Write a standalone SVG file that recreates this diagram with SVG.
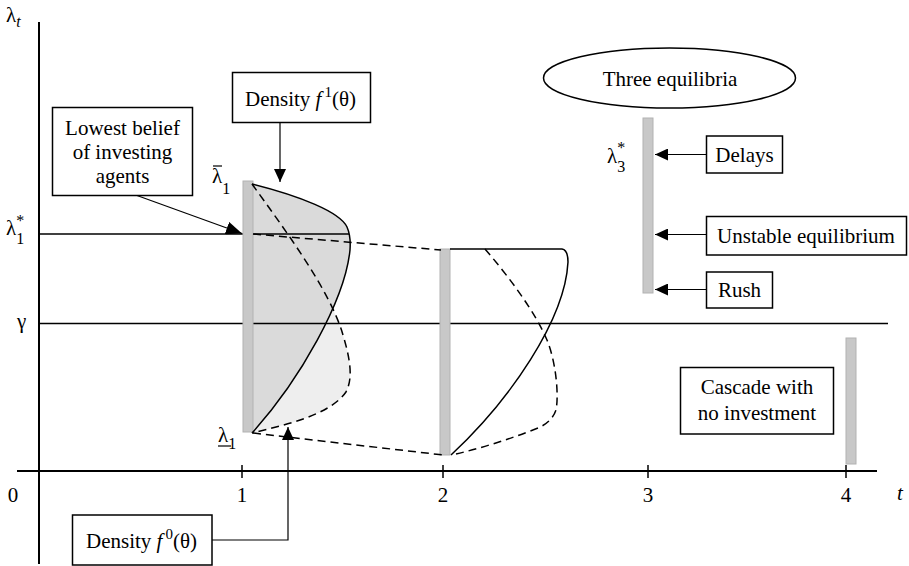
<svg xmlns="http://www.w3.org/2000/svg" width="909" height="566" viewBox="0 0 909 566">
<defs>
<marker id="ah" viewBox="0 0 13 12" refX="13" refY="6" markerWidth="13" markerHeight="12" orient="auto" markerUnits="userSpaceOnUse"><path d="M0,0 L13,6 L0,12 z" fill="#000"/></marker>
<marker id="ahb" viewBox="0 0 16 13" refX="16" refY="6.5" markerWidth="16" markerHeight="13" orient="auto" markerUnits="userSpaceOnUse"><path d="M0,0 L16,6.5 L0,13 z" fill="#000"/></marker>
</defs>
<style>
text{font-family:"Liberation Serif","Times New Roman","DejaVu Serif",serif;font-size:21px;fill:#000}
.c{text-anchor:middle}
.box{fill:#fff;stroke:#000;stroke-width:1.5}
.bar{fill:#c8c8c8;stroke:#b2b2b2;stroke-width:1}
.ax{stroke:#000;stroke-width:2;fill:none}
.ln{stroke:#000;stroke-width:1.5;fill:none}
.ds{stroke:#000;stroke-width:1.5;fill:none;stroke-dasharray:8 5}
.con{stroke:#000;stroke-width:1.2;fill:none;marker-end:url(#ah)}
.it{font-style:italic}
.sm{font-size:16px}
.sp{font-size:15px}
</style>
<rect width="909" height="566" fill="#fff"/>

<g id="shading">
<path d="M252,184 C285,230 330,290 343,335 C352,365 352,380 346,392 C330,415 285,425 252,433 Z" fill="#eeeeee"/>
<path d="M252,184 C300,196 340,212 347,227 Q351,236 350,250 C345,300 300,380 252,433 Z" fill="#dadada"/>
</g>

<g id="axes">
<line class="ax" x1="39" y1="22" x2="39" y2="564"/>
<line class="ax" x1="17" y1="471" x2="877" y2="471"/>
<line class="ln" x1="242" y1="465" x2="242" y2="478"/>
<line class="ln" x1="443" y1="465" x2="443" y2="478"/>
<line class="ln" x1="648" y1="465" x2="648" y2="478"/>
<line class="ln" x1="846" y1="465" x2="846" y2="478"/>
<text x="13" y="502" class="c">0</text>
<text x="242" y="502" class="c">1</text>
<text x="443" y="502" class="c">2</text>
<text x="648" y="502" class="c">3</text>
<text x="846" y="502" class="c">4</text>
<text x="900" y="500" class="c it">t</text>
<text x="6" y="22">λ<tspan class="sm it" dy="5">t</tspan></text>
<text x="6" y="235">λ<tspan class="sm" dy="-9">*</tspan><tspan class="sm" dx="-8" dy="18">1</tspan></text>
<text x="17" y="328">γ</text>
</g>

<g id="levels">
<line class="ln" x1="39" y1="234" x2="349" y2="234"/>
<line class="ln" x1="39" y1="323.5" x2="888" y2="323.5"/>
</g>

<g id="bar1"><rect class="bar" x="243" y="181" width="10" height="251"/>
<text x="212" y="183">λ<tspan class="sm" dy="11">1</tspan></text>
<line x1="213" y1="166" x2="222" y2="166" stroke="#000" stroke-width="1.2"/>
<text x="218" y="442">λ<tspan class="sm" dy="7">1</tspan></text>
<line x1="218" y1="446" x2="231" y2="446" stroke="#000" stroke-width="1.2"/>
</g>
<g id="bar2"><rect class="bar" x="440" y="249" width="10" height="206"/></g>
<g id="bar3"><rect class="bar" x="643" y="118" width="10" height="175"/>
<text x="607" y="163">λ<tspan class="sm" dy="-10">*</tspan><tspan class="sm" dx="-8" dy="19">3</tspan></text>
</g>
<g id="bar4"><rect class="bar" x="846" y="338" width="10" height="126"/></g>

<g id="curves">
<path class="ln" d="M252,184 C300,196 340,212 347,227 Q351,236 350,250 C345,300 300,380 252,433"/>
<path class="ds" d="M252,184 C285,230 330,290 343,335 C352,365 352,380 346,392 C330,415 285,425 252,433"/>
<path class="ds" d="M253,234 L441,250"/>
<path class="ds" d="M253,433 L443,455"/>
<path class="ln" d="M450,249 L562,249 Q568,250 568,262 C565,320 510,400 451,455"/>
<path class="ds" d="M485,249 C510,278 535,312 547,340 C556,362 559,395 556,410 Q552,422 538,428 Q495,445 452,455"/>
</g>

<g id="n-three">
<ellipse cx="669.5" cy="78" rx="126" ry="30" fill="#fff" stroke="#000" stroke-width="1.5"/>
<text x="670" y="86" class="c">Three equilibria</text>
</g>
<g id="n-density1">
<rect class="box" x="232.5" y="72.5" width="138" height="50"/>
<text x="245" y="106">Density <tspan class="it">f</tspan><tspan class="sp" dx="3" dy="-9">1</tspan><tspan dy="9">(θ)</tspan></text>
</g>
<g id="n-lowest">
<rect class="box" x="52.5" y="107.5" width="140" height="88"/>
<text x="122.5" y="135" class="c">Lowest belief</text>
<text x="122.5" y="159" class="c">of investing</text>
<text x="122.5" y="183" class="c">agents</text>
</g>
<g id="n-density0">
<rect class="box" x="72.5" y="515" width="139.5" height="50"/>
<text x="86" y="548">Density <tspan class="it">f</tspan><tspan class="sp" dx="3" dy="-9">0</tspan><tspan dy="9">(θ)</tspan></text>
</g>
<g id="n-delays">
<rect class="box" x="706.5" y="136" width="76" height="37"/>
<text x="744.5" y="162" class="c">Delays</text>
</g>
<g id="n-unstable">
<rect class="box" x="706.5" y="216.5" width="200" height="38.5"/>
<text x="806" y="243" class="c">Unstable equilibrium</text>
</g>
<g id="n-rush">
<rect class="box" x="706.5" y="272" width="66" height="36"/>
<text x="739.5" y="297" class="c">Rush</text>
</g>
<g id="n-cascade">
<rect class="box" x="680.5" y="367.5" width="153" height="66.5"/>
<text x="757" y="394" class="c">Cascade with</text>
<text x="757" y="420" class="c">no investment</text>
</g>

<g id="connectors">
<line class="con" x1="280" y1="122.5" x2="280" y2="182"/>
<line x1="137" y1="195.5" x2="242" y2="233.5" stroke="#000" stroke-width="1.2" marker-end="url(#ahb)"/>
<polyline class="con" points="212,540 288,540 288,427"/>
<line class="con" x1="706.5" y1="154.5" x2="655" y2="154.5"/>
<line class="con" x1="706.5" y1="234.5" x2="655" y2="234.5"/>
<line class="con" x1="706.5" y1="289.5" x2="655" y2="289.5"/>
</g>
</svg>
